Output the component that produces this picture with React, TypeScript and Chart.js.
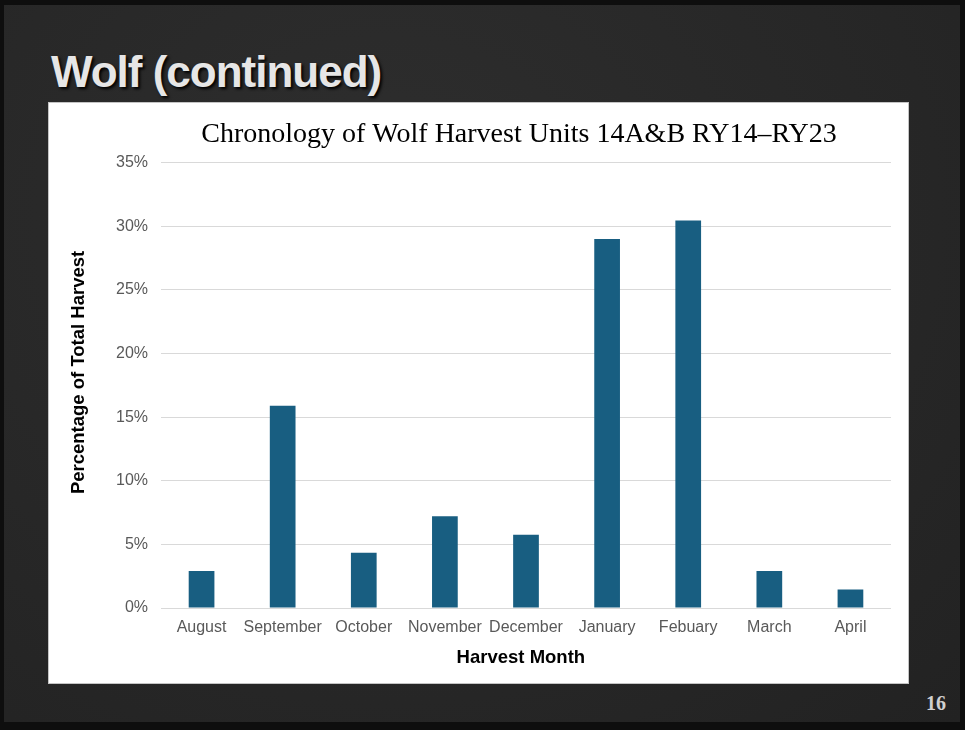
import React, { useEffect, useRef } from "react";
import { Chart, registerables } from "chart.js";

Chart.register(...registerables);

const months = ["August", "September", "October", "November", "December", "January", "Febuary", "March", "April"];
const harvestPct = [2.9, 15.9, 4.35, 7.2, 5.75, 29.0, 30.45, 2.9, 1.45];
const yTicks = [0, 5, 10, 15, 20, 25, 30, 35];

const slideTitle = "Wolf (continued)";
const chartTitle = "Chronology of Wolf Harvest Units 14A&B RY14\u2013RY23  ";
const xTitle = "Harvest Month  ";
const yTitle = "     Percentage of Total Harvest";
const pageNumber = "16";

const CW = 859;
const CH = 580;

export default function App() {
  const ref = useRef<HTMLCanvasElement | null>(null);

  useEffect(() => {
    if (!ref.current) return;
    const chart = new Chart(ref.current, {
      type: "bar",
      data: {
        labels: months,
        datasets: [
          {
            data: harvestPct,
            backgroundColor: "#185e81",
            borderWidth: 0,
            categoryPercentage: 1,
            barPercentage: 0.317,
          },
        ],
      },
      options: {
        animation: false,
        responsive: false,
        devicePixelRatio: 1,
        layout: { padding: { left: 0, right: 17, top: 0, bottom: 0 } },
        plugins: {
          legend: { display: false },
          tooltip: { enabled: false },
          title: {
            display: true,
            text: chartTitle,
            fullSize: false,
            color: "#000000",
            font: { family: "'Liberation Serif', 'Times New Roman', serif", size: 28, weight: "normal" },
            padding: { top: 15, bottom: 11 },
          },
        },
        scales: {
          x: {
            grid: { display: false, drawTicks: false },
            border: { display: false },
            ticks: {
              color: "#595959",
              font: { family: "'Liberation Sans', Arial, sans-serif", size: 16 },
              padding: 10,
              maxRotation: 0,
              autoSkip: false,
            },
            title: {
              display: true,
              text: xTitle,
              color: "#000000",
              font: { family: "'Liberation Sans', Arial, sans-serif", size: 18.5, weight: "bold" },
              padding: { top: 0, bottom: 14.2 },
            },
            afterFit: (scale: any) => {
              scale.height = 75;
            },
          },
          y: {
            min: 0,
            max: 35,
            afterBuildTicks: (scale: any) => {
              scale.ticks = yTicks.map((v) => ({ value: v }));
            },
            grid: { color: "#d9d9d9", lineWidth: 1, drawTicks: false },
            border: { display: false },
            ticks: {
              color: "#595959",
              font: { family: "'Liberation Sans', Arial, sans-serif", size: 16 },
              padding: 13,
              callback: (v: any) => `${v}%`,
            },
            title: {
              display: true,
              text: yTitle,
              color: "#000000",
              font: { family: "'Liberation Sans', Arial, sans-serif", size: 18.5, weight: "bold" },
              padding: { top: 18.4, bottom: 0 },
            },
            afterFit: (scale: any) => {
              scale.width = 112;
            },
          },
        },
      },
    });
    return () => chart.destroy();
  }, []);

  return (
    <div
      style={{
        position: "absolute",
        left: 0,
        top: 0,
        width: 965,
        height: 730,
        background: "#0e0e0e",
        overflow: "hidden",
      }}
    >
      <div
        style={{
          position: "absolute",
          left: 4,
          top: 5,
          width: 956,
          height: 717,
          background: "radial-gradient(ellipse at 40% 30%, #2e2e2e 0%, #272727 60%, #222222 100%)",
        }}
      />
      <div
        style={{
          position: "absolute",
          left: 51,
          top: 50,
          fontFamily: "'Liberation Sans', Arial, sans-serif",
          fontWeight: "bold",
          fontSize: 44,
          lineHeight: "44px",
          letterSpacing: "-1px",
          color: "#e6e6e6",
          whiteSpace: "nowrap",
          textShadow: "2px 2px 3px #000000",
        }}
      >
        {slideTitle}
      </div>
      <div
        style={{
          position: "absolute",
          left: 48,
          top: 102,
          width: CW + 2,
          height: CH + 2,
          background: "#c4c4c4",
        }}
      />
      <div
        style={{
          position: "absolute",
          left: 49,
          top: 103,
          width: CW,
          height: CH,
          background: "#ffffff",
        }}
      >
        <canvas ref={ref} width={CW} height={CH} style={{ display: "block", width: CW, height: CH }} />
      </div>
      <div
        style={{
          position: "absolute",
          left: 926,
          top: 693,
          fontFamily: "'Liberation Serif', 'Times New Roman', serif",
          fontWeight: "bold",
          fontSize: 20,
          lineHeight: "20px",
          color: "#d0d0d0",
        }}
      >
        {pageNumber}
      </div>
    </div>
  );
}
